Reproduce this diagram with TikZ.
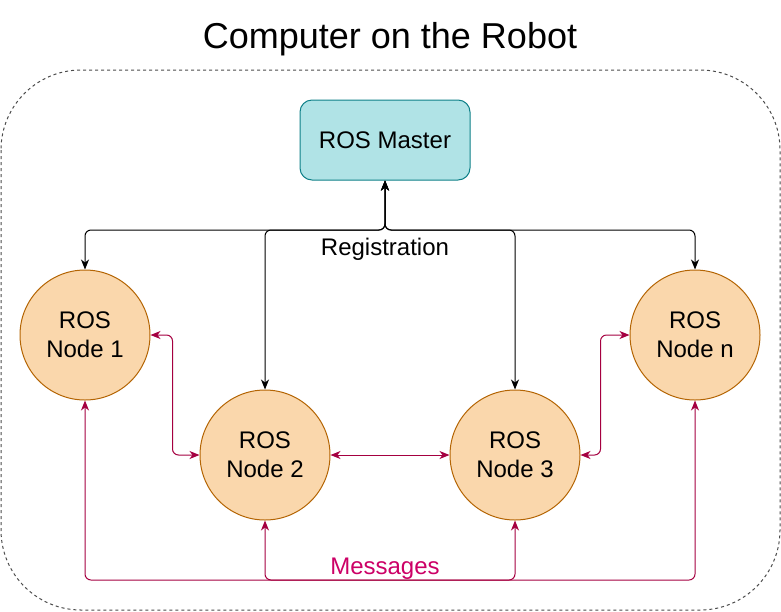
\documentclass[tikz,border=0pt]{standalone}
\usepackage{fontspec}
\setmainfont{Liberation Sans}
\usetikzlibrary{arrows.meta}

\definecolor{nodefill}{HTML}{FAD7AC}
\definecolor{nodeline}{HTML}{B46504}
\definecolor{masterfill}{HTML}{B0E3E6}
\definecolor{masterline}{HTML}{0E8088}
\definecolor{msgline}{HTML}{A50040}
\definecolor{msgtext}{HTML}{CC0066}

\tikzset{
  rosnode/.style={circle,draw=nodeline,fill=nodefill,line width=1pt,
    minimum size=130pt,inner sep=0pt,align=center,
    font=\fontsize{24}{29}\selectfont},
  master/.style={rectangle,rounded corners=12pt,draw=masterline,
    fill=masterfill,line width=1pt,minimum width=170pt,minimum height=80pt,
    font=\fontsize{24}{29}\selectfont},
  reglink/.style={draw=black,line width=1pt,rounded corners=6pt,
    {Stealth[length=10pt,width=8pt,inset=3pt]}-{Stealth[length=10pt,width=8pt,inset=3pt]}},
  msglink/.style={draw=msgline,line width=1pt,rounded corners=6pt,
    {Stealth[length=10pt,width=8pt,inset=3pt]}-{Stealth[length=10pt,width=8pt,inset=3pt]}}
}

\begin{document}
\begin{tikzpicture}[x=1pt,y=-1pt]
\useasboundingbox (0,0) rectangle (781,611);
\draw [draw=black!70,line width=1pt,dash pattern=on 3pt off 3pt,rounded corners=80pt]
(1,70) rectangle (780,610);

\node [anchor=base,font=\fontsize{36}{43}\selectfont] (title) at (390,48) {Computer on the Robot};
\node [master] (master) at (385,140) {ROS Master};
\node [rosnode] (n1) at (85,335) {ROS\\Node 1};
\node [rosnode] (n2) at (265,455) {ROS\\Node 2};
\node [rosnode] (n3) at (515,455) {ROS\\Node 3};
\node [rosnode] (nn) at (695,335) {ROS\\Node n};
\coordinate (regbus) at (385,230);
\coordinate (msgbus) at (385,580);

% registration with the master
\foreach \n in {n1,n2,n3,nn}
  \draw [reglink] (\n.north) -- (\n.north |- regbus) -- (regbus) -- (master.south);
\node [anchor=base,font=\fontsize{24}{29}\selectfont] (reglabel) at (385,255) {Registration};

% messages between the nodes
\draw [msglink] (n1.south) -- (n1.south |- msgbus) -- (nn.south |- msgbus) -- (nn.south);
\draw [msglink] (n2.south) -- (n2.south |- msgbus) -- (n3.south |- msgbus) -- (n3.south);
\draw [msglink] (n1.east) -- ++(22,0) |- (n2.west);
\draw [msglink] (n2.east) -- (n3.west);
\draw [msglink] (n3.east) -- ++(20,0) |- (nn.west);
\node [anchor=base,text=msgtext,font=\fontsize{24}{29}\selectfont] (msglabel) at (385,574) {Messages};
\end{tikzpicture}
\end{document}
